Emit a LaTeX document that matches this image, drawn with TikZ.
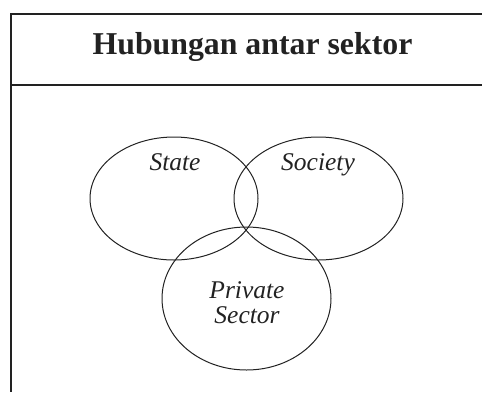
\documentclass[tikz,border=0pt]{standalone}
\usepackage{fontspec}
\setmainfont{Liberation Serif}
\usetikzlibrary{shapes.geometric}
\definecolor{ink}{HTML}{222222}
\tikzset{
  frame/.style={draw=ink, line width=1.3pt},
  sector/.style={ellipse, draw=ink, line width=1pt, inner sep=0pt},
  label/.style={text=ink, font=\fontsize{25.5}{25.5}\selectfont\itshape, inner sep=0pt, anchor=base},
  heading/.style={text=ink, font=\fontsize{31.8}{31.8}\selectfont\bfseries, inner sep=0pt, anchor=base}
}
\begin{document}
\begin{tikzpicture}[x=1pt, y=1pt]
  \useasboundingbox (0,0) rectangle (482,-392);
  % outer frame, open on the right and at the bottom
  \draw[frame] (482,-14) -- (11,-14) -- (11,-392);
  \draw[frame] (11,-85) -- (482,-85);
  \node[heading] (title) at (252.5,-54) {Hubungan antar sektor};
  % three overlapping sectors
  \node[sector, minimum width=168pt, minimum height=123pt] (state) at (174,-198.5) {};
  \node[sector, minimum width=169pt, minimum height=123pt] (society) at (318.5,-198.5) {};
  \node[sector, minimum width=169pt, minimum height=143pt] (private) at (246.5,-298.5) {};
  \node[label] (tstate) at (175,-170) {State};
  \node[label] (tsociety) at (318,-170) {Society};
  \node[label] (tprivate) at (247,-298) {Private};
  \node[label] (tsector) at (247,-323) {Sector};
\end{tikzpicture}
\end{document}
